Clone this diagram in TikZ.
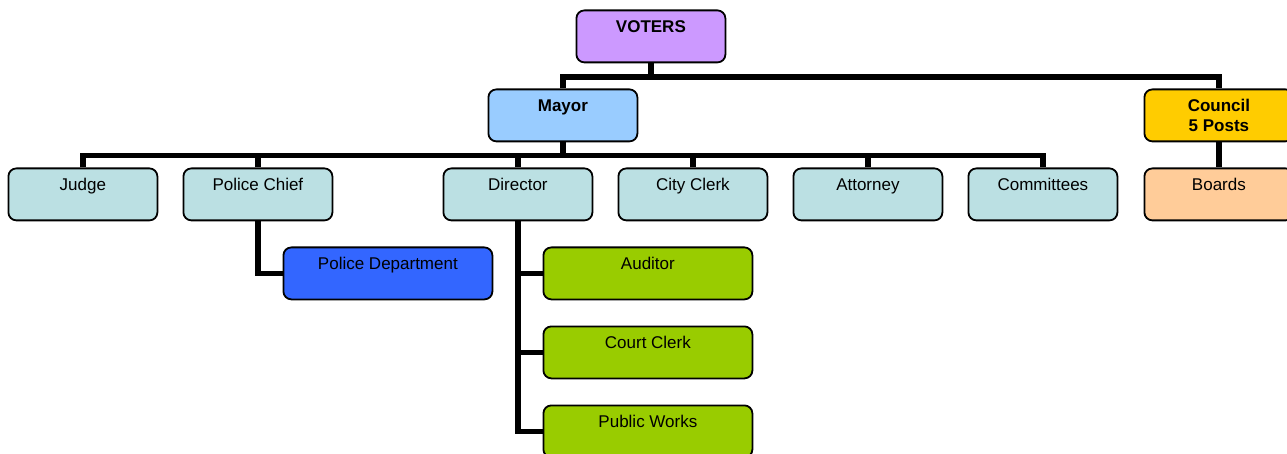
\documentclass[tikz,border=0pt]{standalone}
\usepackage{fontspec}
\setmainfont{Liberation Sans}
\definecolor{cvoter}{HTML}{CC99FF}
\definecolor{cmayor}{HTML}{99CCFF}
\definecolor{cteal}{HTML}{BBE0E3}
\definecolor{cpolice}{HTML}{3366FF}
\definecolor{cgreen}{HTML}{99CC00}
\definecolor{ccouncil}{HTML}{FFCC00}
\definecolor{cboards}{HTML}{FFCC99}
\tikzset{
  box/.style={draw=black, line width=1.8pt, rounded corners=8pt, rectangle,
    minimum width=149pt, minimum height=52pt, inner sep=0pt, anchor=north west},
  wide/.style={box, minimum width=209pt},
  txt/.style={label={[anchor=base, yshift=-23pt, inner sep=0pt, font=\fontsize{17}{20}\selectfont]north:#1}},
  btxt/.style={label={[anchor=base, yshift=-23pt, inner sep=0pt, font=\fontsize{17}{20}\selectfont\bfseries]north:#1}},
  btxtb/.style={label={[anchor=base, yshift=-43pt, inner sep=0pt, font=\fontsize{17}{20}\selectfont\bfseries]north:#1}},
  conn/.style={line width=5.5pt, line join=miter},
}
\begin{document}
\begin{tikzpicture}[x=1pt, y=-1pt]
\useasboundingbox (0,0) rectangle (1287,454);
% nodes
\node[box, fill=cvoter, btxt=VOTERS] (voters) at (575.5,9.5) {};
\node[box, fill=cmayor, btxt=Mayor] (mayor) at (487.5,88.5) {};
\node[box, fill=ccouncil, btxt=Council, btxtb=5 Posts] (council) at (1143.5,88.5) {};
\node[box, fill=cteal, txt=Judge] (judge) at (7.5,167.5) {};
\node[box, fill=cteal, txt=Police Chief] (chief) at (182.5,167.5) {};
\node[box, fill=cteal, txt=Director] (director) at (442.5,167.5) {};
\node[box, fill=cteal, txt=City Clerk] (clerk) at (617.5,167.5) {};
\node[box, fill=cteal, txt=Attorney] (attorney) at (792.5,167.5) {};
\node[box, fill=cteal, txt=Committees] (committees) at (967.5,167.5) {};
\node[box, fill=cboards, txt=Boards] (boards) at (1143.5,167.5) {};
\node[wide, fill=cpolice, txt=Police Department] (policedept) at (282.5,246.5) {};
\node[wide, fill=cgreen, txt=Auditor] (auditor) at (542.5,246.5) {};
\node[wide, fill=cgreen, txt=Court Clerk] (courtclerk) at (542.5,325.5) {};
\node[wide, fill=cgreen, txt=Public Works] (publicworks) at (542.5,404.5) {};
% connectors
\draw[conn] (voters.south) -- ++(0,13.5) coordinate (vb);
\draw[conn] (mayor.north) -- (mayor.north |- vb) -- (council.north |- vb) -- (council.north);
\draw[conn] (mayor.south) -- ++(0,13) coordinate (mb);
\draw[conn] (judge.north) -- (judge.north |- mb) -- (committees.north |- mb) -- (committees.north);
\draw[conn] (chief.north) -- (chief.north |- mb);
\draw[conn] (director.north) -- (director.north |- mb);
\draw[conn] (clerk.north) -- (clerk.north |- mb);
\draw[conn] (attorney.north) -- (attorney.north |- mb);
\draw[conn] (chief.south) |- (policedept.west);
\draw[conn] (director.south) |- (publicworks.west);
\draw[conn] (director.south |- auditor.west) -- (auditor.west);
\draw[conn] (director.south |- courtclerk.west) -- (courtclerk.west);
\draw[conn] (council.south) -- (boards.north);
\end{tikzpicture}
\end{document}
